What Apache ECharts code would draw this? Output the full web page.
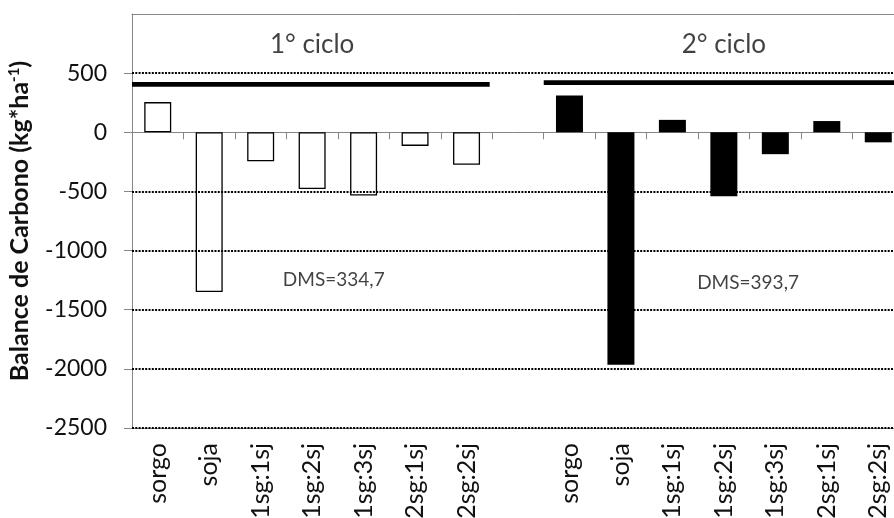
<!DOCTYPE html>
<html>
<head>
<meta charset="utf-8">
<script src="https://cdn.jsdelivr.net/npm/echarts@6/dist/echarts.min.js"></script>
<style>
  html, body { margin: 0; padding: 0; background: #fff; }
  #chart { width: 894px; height: 518px; }
</style>
</head>
<body>
<div id="chart"></div>
<script>
// Treatments, repeated for each cropping cycle
const treatments = ['sorgo', 'soja', '1sg:1sj', '1sg:2sj', '1sg:3sj', '2sg:1sj', '2sg:2sj'];
// Carbon balance (kg*ha-1) per treatment
const cycle1Balance = [255, -1350, -245, -480, -535, -115, -275];
const cycle2Balance = [310, -1965, 105, -540, -185, 95, -85];
// Cycle headers and least significant differences
const cycleNames = ['1° ciclo', '2° ciclo'];
const dmsValues = ['334,7', '393,7'];
// Value axis ticks
const yTickValues = [-2500, -2000, -1500, -1000, -500, 0, 500];

const categories = treatments.concat([''], treatments);
const n = treatments.length;
const gap = new Array(n + 1).fill('-');
const series1Data = cycle1Balance.concat(gap);
const series2Data = gap.concat(cycle2Balance);
const gridValues = yTickValues.filter(v => v !== 0);

// Extent of each cycle along the category slots (slot units)
const cycleStart = [0, n + 1];
const cycleEnd = [n - 0.05, 2 * n + 1];
const cycleRuleLevel = [405, 420];

const FONT = 'Lato, "Open Sans", sans-serif';
const TEXT = '#111';
const AXIS = '#868686';

const chart = echarts.init(document.getElementById('chart'), null, { renderer: 'canvas' });

const ruleSeries = cycleNames.map((name, i) => ({
  type: 'line',
  xAxisIndex: 2,
  yAxisIndex: 0,
  silent: true,
  symbol: 'none',
  lineStyle: { color: '#000', width: 4.7 },
  data: [[cycleStart[i], cycleRuleLevel[i]], [cycleEnd[i], cycleRuleLevel[i]]],
  z: 4
}));

chart.setOption({
  animation: false,
  backgroundColor: '#fff',
  grid: {
    left: 132, top: 14, width: 772, height: 414,
    containLabel: false, outerBoundsMode: 'none'
  },
  xAxis: [
    {
      type: 'category',
      data: categories,
      position: 'bottom',
      axisLine: { onZero: false, lineStyle: { color: AXIS, width: 1 } },
      axisTick: { show: false },
      axisLabel: {
        interval: 0, rotate: 90, margin: 15,
        fontFamily: FONT, fontSize: 25, color: TEXT
      },
      splitLine: { show: false }
    },
    {
      type: 'category',
      data: categories,
      position: 'bottom',
      axisLine: { onZero: true, onZeroAxisIndex: 0, lineStyle: { color: AXIS, width: 1 } },
      axisTick: { show: true, length: 7, inside: false, alignWithLabel: false, interval: 0, lineStyle: { color: AXIS } },
      axisLabel: { show: false },
      splitLine: { show: false }
    },
    {
      type: 'value',
      min: 0,
      max: categories.length,
      position: 'top',
      axisLine: { show: true, onZero: false, lineStyle: { color: AXIS, width: 1 } },
      axisTick: { show: false },
      axisLabel: { show: false },
      splitLine: { show: false }
    }
  ],
  yAxis: {
    type: 'value',
    min: -2500,
    max: 1000,
    interval: 500,
    axisLine: { show: true, lineStyle: { color: AXIS, width: 1 } },
    axisTick: { show: true, length: 8, inside: false, customValues: yTickValues, lineStyle: { color: AXIS } },
    axisLabel: {
      customValues: yTickValues,
      formatter: v => String(v),
      margin: 25, fontFamily: FONT, fontSize: 23, color: TEXT
    },
    splitLine: { show: false },
    name: '{b|Balance de Carbono (kg*ha}{sup|-1}{b|)}',
    nameLocation: 'middle',
    nameRotate: 90,
    nameGap: 99,
    nameTextStyle: {
      fontFamily: FONT, fontSize: 25, fontWeight: 'bold', color: TEXT,
      rich: {
        b: { fontFamily: FONT, fontSize: 25, fontWeight: 'bold', color: TEXT, lineHeight: 26 },
        sup: { fontFamily: FONT, fontSize: 15, fontWeight: 'bold', color: TEXT, verticalAlign: 'top', lineHeight: 26 }
      }
    }
  },
  series: [
    {
      name: cycleNames[0],
      type: 'bar',
      xAxisIndex: 0,
      data: series1Data,
      barWidth: 27,
      barGap: '-100%',
      itemStyle: { color: 'rgba(0,0,0,0)', borderColor: '#000', borderWidth: 1.3 },
      markLine: {
        silent: true,
        symbol: ['none', 'none'],
        label: { show: false },
        lineStyle: { color: '#000', width: 2, type: [2, 1.3] },
        data: gridValues.map(v => ({ yAxis: v }))
      }
    },
    {
      name: cycleNames[1],
      type: 'bar',
      xAxisIndex: 0,
      data: series2Data,
      barWidth: 27,
      barGap: '-100%',
      itemStyle: { color: '#000' }
    },
    ...ruleSeries,
    {
      type: 'scatter',
      xAxisIndex: 2,
      silent: true,
      symbolSize: 0,
      data: cycleNames.map((name, i) => [(cycleStart[i] + cycleStart[i] + n) / 2, 740, name]),
      label: {
        show: true, position: 'inside',
        formatter: p => p.value[2],
        fontFamily: FONT, fontSize: 26, color: TEXT
      }
    },
    {
      type: 'scatter',
      xAxisIndex: 2,
      silent: true,
      symbolSize: 0,
      data: [[3.92, -1245, 'DMS=' + dmsValues[0]], [11.97, -1270, 'DMS=' + dmsValues[1]]],
      label: {
        show: true, position: 'inside',
        formatter: p => p.value[2],
        fontFamily: FONT, fontSize: 19, color: TEXT
      }
    }
  ]
});
</script>
</body>
</html>
